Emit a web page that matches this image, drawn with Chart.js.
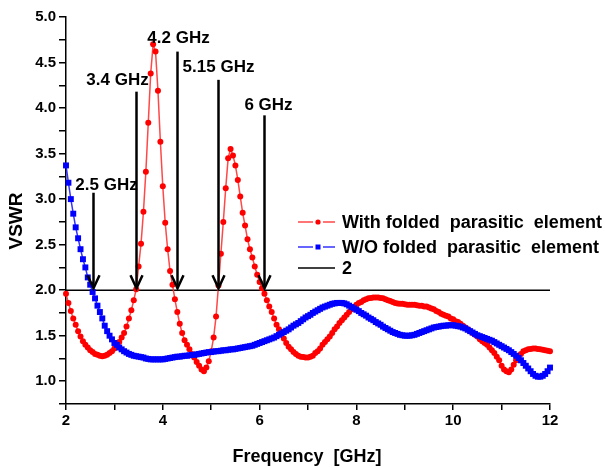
<!DOCTYPE html>
<html>
<head>
<meta charset="utf-8">
<script src="https://cdn.jsdelivr.net/npm/chart.js@4.4.1/dist/chart.umd.min.js"></script>
<style>
  html, body { margin: 0; padding: 0; background: #ffffff; }
  #wrap { width: 605px; height: 468px; }
</style>
</head>
<body>
<div id="wrap"><canvas id="c" width="605" height="468"></canvas></div>
<script>
// Frequency sweep points (GHz)
const freqGHz = [
  2.00,2.05,2.10,2.15,2.20,2.25,2.30,2.35,2.40,2.45,2.50,2.55,2.60,2.65,2.70,2.75,2.80,2.85,2.90,2.95,
  3.00,3.05,3.10,3.15,3.20,3.25,3.30,3.35,3.40,3.45,3.50,3.55,3.60,3.65,3.70,3.75,3.80,3.85,3.90,3.95,
  4.00,4.05,4.10,4.15,4.20,4.25,4.30,4.35,4.40,4.45,4.50,4.55,4.60,4.65,4.70,4.75,4.80,4.85,4.90,4.95,
  5.00,5.05,5.10,5.15,5.20,5.25,5.30,5.35,5.40,5.45,5.50,5.55,5.60,5.65,5.70,5.75,5.80,5.85,5.90,5.95,
  6.00,6.05,6.10,6.15,6.20,6.25,6.30,6.35,6.40,6.45,6.50,6.55,6.60,6.65,6.70,6.75,6.80,6.85,6.90,6.95,
  7.00,7.05,7.10,7.15,7.20,7.25,7.30,7.35,7.40,7.45,7.50,7.55,7.60,7.65,7.70,7.75,7.80,7.85,7.90,7.95,
  8.00,8.05,8.10,8.15,8.20,8.25,8.30,8.35,8.40,8.45,8.50,8.55,8.60,8.65,8.70,8.75,8.80,8.85,8.90,8.95,
  9.00,9.05,9.10,9.15,9.20,9.25,9.30,9.35,9.40,9.45,9.50,9.55,9.60,9.65,9.70,9.75,9.80,9.85,9.90,9.95,
  10.00,10.05,10.10,10.15,10.20,10.25,10.30,10.35,10.40,10.45,10.50,10.55,10.60,10.65,10.70,10.75,10.80,10.85,10.90,10.95,
  11.00,11.05,11.10,11.15,11.20,11.25,11.30,11.35,11.40,11.45,11.50,11.55,11.60,11.65,11.70,11.75,11.80,11.85,11.90,11.95,
  12.00
];

// VSWR with the folded parasitic element
const vswrWith = [
  1.96,1.86,1.77,1.69,1.62,1.55,1.49,1.44,1.40,1.37,1.34,1.32,1.30,1.29,1.28,1.275,1.28,1.29,1.31,1.33,
  1.36,1.39,1.43,1.48,1.53,1.60,1.69,1.78,1.89,2.01,2.26,2.51,2.86,3.30,3.84,4.38,4.70,4.62,4.19,3.63,
  3.14,2.74,2.45,2.21,2.06,1.90,1.76,1.63,1.53,1.45,1.40,1.35,1.30,1.26,1.21,1.17,1.13,1.11,1.15,1.22,
  1.33,1.48,1.71,2.05,2.40,2.75,3.12,3.45,3.55,3.48,3.37,3.21,3.03,2.85,2.71,2.56,2.45,2.36,2.26,2.17,
  2.09,2.02,1.96,1.89,1.82,1.76,1.69,1.62,1.57,1.52,1.47,1.42,1.38,1.35,1.32,1.30,1.28,1.27,1.265,1.26,
  1.26,1.27,1.28,1.31,1.33,1.36,1.40,1.43,1.46,1.49,1.53,1.57,1.60,1.64,1.67,1.70,1.73,1.76,1.79,1.81,
  1.84,1.86,1.87,1.89,1.90,1.91,1.915,1.92,1.92,1.92,1.915,1.91,1.90,1.89,1.88,1.87,1.86,1.855,1.85,1.85,
  1.845,1.84,1.84,1.84,1.84,1.835,1.83,1.83,1.82,1.82,1.81,1.80,1.79,1.77,1.76,1.74,1.73,1.72,1.71,1.69,
  1.68,1.66,1.65,1.63,1.61,1.59,1.57,1.55,1.53,1.51,1.49,1.46,1.44,1.42,1.40,1.37,1.34,1.31,1.27,1.23,
  1.17,1.13,1.11,1.10,1.13,1.18,1.23,1.27,1.30,1.33,1.34,1.35,1.355,1.36,1.36,1.355,1.35,1.345,1.34,1.335,
  1.33
];

// VSWR without the folded parasitic element
const vswrWithout = [
  3.37,3.18,3.00,2.84,2.69,2.57,2.45,2.34,2.25,2.14,2.06,1.98,1.91,1.83,1.76,1.69,1.61,1.55,1.50,1.46,
  1.42,1.40,1.37,1.35,1.33,1.315,1.30,1.29,1.28,1.275,1.27,1.265,1.26,1.25,1.245,1.24,1.24,1.24,1.24,1.24,
  1.24,1.245,1.25,1.255,1.26,1.265,1.27,1.27,1.275,1.28,1.28,1.285,1.29,1.29,1.295,1.30,1.305,1.31,1.315,1.32,
  1.32,1.325,1.33,1.33,1.335,1.34,1.34,1.345,1.35,1.35,1.355,1.36,1.365,1.37,1.375,1.38,1.385,1.39,1.40,1.41,
  1.42,1.43,1.44,1.45,1.46,1.47,1.48,1.495,1.51,1.525,1.54,1.555,1.57,1.59,1.61,1.625,1.64,1.66,1.68,1.70,
  1.715,1.73,1.75,1.765,1.78,1.795,1.81,1.82,1.83,1.84,1.85,1.855,1.86,1.86,1.86,1.855,1.845,1.83,1.815,1.80,
  1.785,1.77,1.75,1.735,1.72,1.70,1.685,1.67,1.65,1.635,1.62,1.60,1.585,1.57,1.555,1.54,1.53,1.52,1.51,1.505,
  1.50,1.50,1.50,1.505,1.51,1.52,1.53,1.54,1.55,1.56,1.57,1.58,1.59,1.595,1.60,1.605,1.61,1.61,1.615,1.615,
  1.615,1.61,1.605,1.60,1.59,1.58,1.565,1.55,1.535,1.52,1.505,1.495,1.485,1.475,1.465,1.455,1.445,1.43,1.415,1.40,
  1.385,1.37,1.355,1.34,1.32,1.30,1.28,1.255,1.23,1.20,1.17,1.14,1.11,1.08,1.06,1.05,1.05,1.06,1.08,1.11,
  1.15
];

// VSWR = 2 reference level
const refFreq = [2, 12];
const refLevel = [2, 2];

// Band-edge markers: frequency, top of the arrow (VSWR units), caption
const arrowFreq = [2.56, 3.45, 4.29, 5.15, 6.10];
const arrowTop = [3.07, 4.18, 4.62, 4.31, 3.92];
const arrowLabels = ['2.5 GHz', '3.4 GHz', '4.2 GHz', '5.15 GHz', '6 GHz'];

// Axis tick labels
const xTickLabels = ['2', '4', '6', '8', '10', '12'];
const yTickLabels = ['1.0', '1.5', '2.0', '2.5', '3.0', '3.5', '4.0', '4.5', '5.0'];

const seriesNames = ['With folded  parasitic  element', 'W/O folded  parasitic  element', '2'];

const pts = (xs, ys) => xs.map((x, i) => ({ x: x, y: ys[i] }));

const FONT = '"Liberation Sans", Arial, sans-serif';

// caption placement relative to each arrow top (px)
const captionOffset = [[13, -3], [-19, -7], [1, -9], [0, -8], [4, -5]];

const annotate = {
  id: 'annotate',
  afterDatasetsDraw(chart) {
    const ctx = chart.ctx;
    const xs = chart.scales.x, ys = chart.scales.y;
    ctx.save();
    // arrows
    ctx.strokeStyle = '#000';
    ctx.lineWidth = 2.5;
    ctx.lineJoin = 'miter';
    ctx.lineCap = 'butt';
    ctx.fillStyle = '#000';
    ctx.font = 'bold 17px ' + FONT;
    ctx.textAlign = 'center';
    ctx.textBaseline = 'alphabetic';
    arrowFreq.forEach((f, i) => {
      const x = Math.round(xs.getPixelForValue(f)) + 0.5;
      const y0 = ys.getPixelForValue(arrowTop[i]);
      const y1 = ys.getPixelForValue(2) - 2;
      ctx.beginPath();
      ctx.moveTo(x, y0);
      ctx.lineTo(x, y1);
      ctx.stroke();
      ctx.beginPath();
      ctx.moveTo(x - 6, y1 - 13);
      ctx.lineTo(x, y1);
      ctx.lineTo(x + 6, y1 - 13);
      ctx.stroke();
      ctx.fillText(arrowLabels[i], x + captionOffset[i][0], y0 + captionOffset[i][1]);
    });

    // legend
    const ds = chart.data.datasets;
    const rows = [222, 247, 268];
    const lx0 = 298, lx1 = 335, mx = 318;
    ctx.font = 'bold 18px ' + FONT;
    ctx.textAlign = 'left';
    ctx.textBaseline = 'middle';
    rows.forEach((ry, i) => {
      const d = ds[i];
      ctx.lineWidth = 1.3;
      ctx.strokeStyle = d.borderColor;
      ctx.beginPath();
      if (i < 2) {
        ctx.moveTo(lx0, ry); ctx.lineTo(mx - 5, ry);
        ctx.moveTo(mx + 5, ry); ctx.lineTo(lx1, ry);
      } else {
        ctx.moveTo(lx0, ry); ctx.lineTo(lx1, ry);
      }
      ctx.stroke();
      ctx.fillStyle = d.pointBackgroundColor || '#000';
      if (i === 0) {
        ctx.beginPath(); ctx.arc(mx, ry, 2.6, 0, Math.PI * 2); ctx.fill();
      } else if (i === 1) {
        ctx.fillRect(mx - 2.5, ry - 2.5, 5, 5);
      }
      ctx.fillStyle = '#000';
      ctx.fillText(seriesNames[i], 342, ry + 1);
    });

    // axis titles
    ctx.font = 'bold 18px ' + FONT;
    ctx.textAlign = 'center';
    ctx.textBaseline = 'alphabetic';
    ctx.fillText('Frequency  [GHz]', 307, 462);
    ctx.save();
    ctx.translate(22, 221);
    ctx.rotate(-Math.PI / 2);
    ctx.font = 'bold 19px ' + FONT;
    ctx.fillText('VSWR', 0, 0);
    ctx.restore();
    ctx.restore();
  }
};

new Chart(document.getElementById('c'), {
  type: 'line',
  data: {
    datasets: [
      {
        label: seriesNames[0],
        data: pts(freqGHz, vswrWith),
        borderColor: 'rgba(255,40,40,0.85)',
        borderWidth: 1.5,
        pointStyle: 'circle',
        pointRadius: 3,
        pointBackgroundColor: '#ff0000',
        pointBorderWidth: 0,
        clip: false,
        order: 2
      },
      {
        label: seriesNames[1],
        data: pts(freqGHz, vswrWithout),
        borderColor: 'rgba(30,30,255,0.9)',
        borderWidth: 1.5,
        pointStyle: 'rect',
        pointRadius: 4.2,
        pointBackgroundColor: '#0000ff',
        pointBorderWidth: 0,
        clip: false,
        order: 1
      },
      {
        label: seriesNames[2],
        data: pts(refFreq, refLevel),
        borderColor: '#000000',
        borderWidth: 1.5,
        pointRadius: 0,
        order: 3
      }
    ]
  },
  options: {
    responsive: false,
    animation: false,
    devicePixelRatio: 1,
    layout: { padding: { top: 17, right: 55, left: 0, bottom: 0 } },
    plugins: { legend: { display: false }, tooltip: { enabled: false } },
    elements: { line: { tension: 0 } },
    scales: {
      x: {
        type: 'linear',
        min: 2, max: 12,
        afterFit: s => { s.height = 64; },
        ticks: {
          stepSize: 1, autoSkip: false, maxRotation: 0, padding: 2,
          color: '#000',
          font: { family: FONT, size: 15, weight: 'bold' },
          callback: v => xTickLabels.includes(String(v)) ? String(v) : ''
        },
        grid: { drawOnChartArea: false, drawTicks: true, tickLength: 6, color: '#000', lineWidth: 1.5 },
        border: { display: true, color: '#000', width: 1.5 }
      },
      y: {
        type: 'linear',
        min: 0.75, max: 5,
        afterFit: s => { s.width = 66; },
        ticks: {
          stepSize: 0.25, autoSkip: false, padding: 3,
          color: '#000',
          font: { family: FONT, size: 15, weight: 'bold' },
          callback: v => {
            const t = Number(v).toFixed(1);
            return (Math.abs(v * 2 - Math.round(v * 2)) < 1e-6 && yTickLabels.includes(t)) ? t : '';
          }
        },
        grid: { drawOnChartArea: false, drawTicks: true, tickLength: 7, color: '#000', lineWidth: 1.5 },
        border: { display: true, color: '#000', width: 1.5 }
      }
    }
  },
  plugins: [annotate]
});
</script>
</body>
</html>
